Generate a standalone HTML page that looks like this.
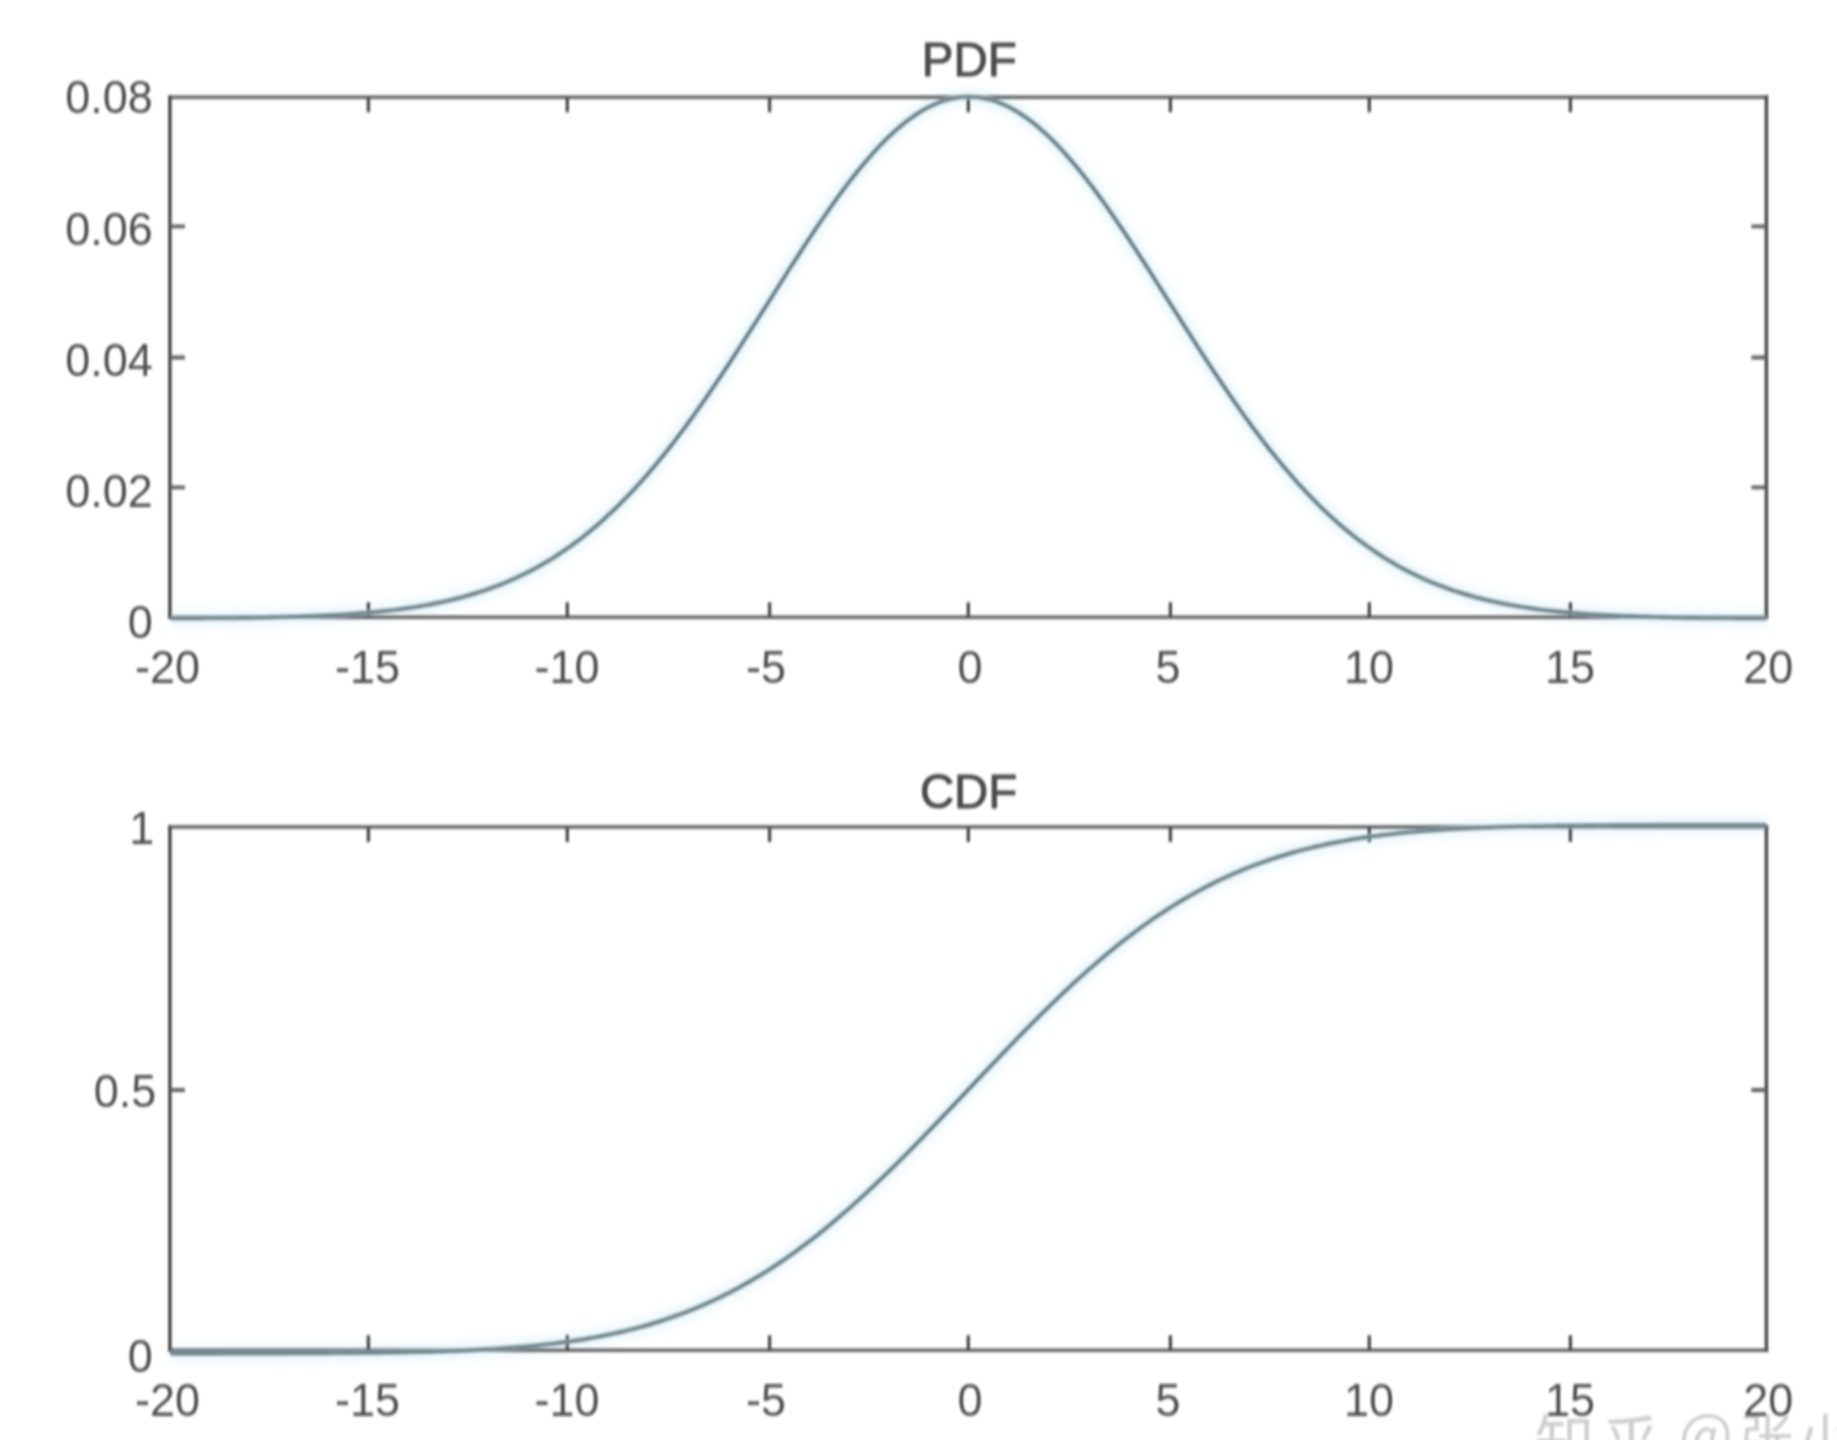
<!DOCTYPE html>
<html lang="zh"><head><meta charset="utf-8"><title>PDF / CDF</title>
<style>
html,body{margin:0;padding:0;background:#fff;}
body{width:1837px;height:1440px;overflow:hidden;position:relative;}
svg{display:block;position:absolute;left:0;top:0;width:1837px;height:1440px;}
text{font-family:"Liberation Sans","Noto Sans CJK SC",sans-serif;}
.lab{font-size:45px;fill:#505050;}
.ttl{font-size:47.4px;fill:#4c4c4c;stroke:#4c4c4c;stroke-width:1.0px;}
.wm{font-family:"Noto Sans CJK SC","WenQuanYi Zen Hei",sans-serif;fill:#cfcfcf;}
.ax{stroke:#4e4e4e;stroke-width:3.6;fill:none;}
.tk{stroke:#4e4e4e;stroke-width:3.4;fill:none;}
.axh{stroke:#5f5f5f;stroke-width:3.5;fill:none;}
.tkh{stroke:#5f5f5f;stroke-width:3.8;fill:none;}
.halo{stroke:#d8f2fa;stroke-width:16;fill:none;opacity:.5;}
.crv{stroke:#9db1b9;stroke-width:5;fill:none;stroke-linejoin:round;}
.crv2{stroke:#46616b;stroke-width:1.9;fill:none;stroke-linejoin:round;}
.soft{filter:url(#b1);}
.softt{filter:url(#b2);}
.softer{filter:blur(4px);}
</style></head><body>
<svg width="1837" height="1440" viewBox="0 0 1837 1440">
<defs><filter id="b1" filterUnits="userSpaceOnUse" x="0" y="0" width="1837" height="1440"><feGaussianBlur stdDeviation="1.2 1.65"/></filter><filter id="b2" filterUnits="userSpaceOnUse" x="0" y="0" width="1837" height="1500"><feGaussianBlur stdDeviation="1.25 1.6"/></filter></defs>
<rect width="1837" height="1440" fill="#fff"/>
<g class="softt">
<text class="wm" font-size="60" y="1465"><tspan x="1534.6">知</tspan><tspan x="1600.8">乎</tspan></text>
<text class="wm" y="1459"><tspan font-size="57" x="1678.7" y="1454.7">@</tspan><tspan font-size="54.5" x="1739.1" y="1459">张</tspan><tspan font-size="54.5" x="1797.7" y="1459">小</tspan></text>
</g>
<g class="softer">
<path class="halo" d="M170.6,618.3 L175.6,618.3 L180.6,618.3 L185.6,618.2 L190.6,618.2 L195.5,618.2 L200.5,618.2 L205.5,618.1 L210.5,618.1 L215.5,618.1 L220.5,618.0 L225.5,618.0 L230.5,617.9 L235.5,617.9 L240.4,617.8 L245.4,617.7 L250.4,617.7 L255.4,617.6 L260.4,617.5 L265.4,617.4 L270.4,617.3 L275.4,617.2 L280.4,617.1 L285.3,616.9 L290.3,616.8 L295.3,616.7 L300.3,616.5 L305.3,616.3 L310.3,616.1 L315.3,615.9 L320.3,615.7 L325.3,615.5 L330.2,615.3 L335.2,615.0 L340.2,614.7 L345.2,614.4 L350.2,614.1 L355.2,613.7 L360.2,613.3 L365.2,612.9 L370.2,612.5 L375.2,612.0 L380.1,611.5 L385.1,611.0 L390.1,610.4 L395.1,609.9 L400.1,609.2 L405.1,608.5 L410.1,607.8 L415.1,607.1 L420.1,606.2 L425.0,605.4 L430.0,604.5 L435.0,603.5 L440.0,602.5 L445.0,601.4 L450.0,600.3 L455.0,599.0 L460.0,597.8 L465.0,596.4 L469.9,595.0 L474.9,593.5 L479.9,591.9 L484.9,590.3 L489.9,588.5 L494.9,586.7 L499.9,584.8 L504.9,582.8 L509.9,580.7 L514.8,578.5 L519.8,576.1 L524.8,573.7 L529.8,571.2 L534.8,568.6 L539.8,565.8 L544.8,562.9 L549.8,560.0 L554.8,556.8 L559.7,553.6 L564.7,550.2 L569.7,546.7 L574.7,543.1 L579.7,539.4 L584.7,535.5 L589.7,531.4 L594.7,527.3 L599.7,523.0 L604.6,518.5 L609.6,513.9 L614.6,509.2 L619.6,504.3 L624.6,499.2 L629.6,494.1 L634.6,488.7 L639.6,483.3 L644.6,477.7 L649.6,471.9 L654.5,466.1 L659.5,460.0 L664.5,453.9 L669.5,447.6 L674.5,441.2 L679.5,434.6 L684.5,427.9 L689.5,421.1 L694.5,414.2 L699.4,407.2 L704.4,400.1 L709.4,392.8 L714.4,385.5 L719.4,378.1 L724.4,370.6 L729.4,363.1 L734.4,355.4 L739.4,347.7 L744.3,340.0 L749.3,332.2 L754.3,324.4 L759.3,316.5 L764.3,308.6 L769.3,300.8 L774.3,292.9 L779.3,285.0 L784.3,277.2 L789.2,269.3 L794.2,261.6 L799.2,253.9 L804.2,246.2 L809.2,238.6 L814.2,231.1 L819.2,223.7 L824.2,216.5 L829.2,209.3 L834.1,202.3 L839.1,195.4 L844.1,188.6 L849.1,182.0 L854.1,175.6 L859.1,169.4 L864.1,163.4 L869.1,157.6 L874.1,151.9 L879.0,146.6 L884.0,141.4 L889.0,136.5 L894.0,131.9 L899.0,127.5 L904.0,123.3 L909.0,119.5 L914.0,115.9 L919.0,112.6 L923.9,109.6 L928.9,107.0 L933.9,104.6 L938.9,102.5 L943.9,100.7 L948.9,99.3 L953.9,98.2 L958.9,97.3 L963.9,96.9 L968.9,96.7 L973.8,96.9 L978.8,97.3 L983.8,98.2 L988.8,99.3 L993.8,100.7 L998.8,102.5 L1003.8,104.6 L1008.8,107.0 L1013.8,109.6 L1018.7,112.6 L1023.7,115.9 L1028.7,119.5 L1033.7,123.3 L1038.7,127.5 L1043.7,131.9 L1048.7,136.5 L1053.7,141.4 L1058.7,146.6 L1063.6,151.9 L1068.6,157.6 L1073.6,163.4 L1078.6,169.4 L1083.6,175.6 L1088.6,182.0 L1093.6,188.6 L1098.6,195.4 L1103.6,202.3 L1108.5,209.3 L1113.5,216.5 L1118.5,223.7 L1123.5,231.1 L1128.5,238.6 L1133.5,246.2 L1138.5,253.9 L1143.5,261.6 L1148.5,269.3 L1153.4,277.2 L1158.4,285.0 L1163.4,292.9 L1168.4,300.8 L1173.4,308.6 L1178.4,316.5 L1183.4,324.4 L1188.4,332.2 L1193.4,340.0 L1198.3,347.7 L1203.3,355.4 L1208.3,363.1 L1213.3,370.6 L1218.3,378.1 L1223.3,385.5 L1228.3,392.8 L1233.3,400.1 L1238.3,407.2 L1243.2,414.2 L1248.2,421.1 L1253.2,427.9 L1258.2,434.6 L1263.2,441.2 L1268.2,447.6 L1273.2,453.9 L1278.2,460.0 L1283.2,466.1 L1288.2,471.9 L1293.1,477.7 L1298.1,483.3 L1303.1,488.7 L1308.1,494.1 L1313.1,499.2 L1318.1,504.3 L1323.1,509.2 L1328.1,513.9 L1333.1,518.5 L1338.0,523.0 L1343.0,527.3 L1348.0,531.4 L1353.0,535.5 L1358.0,539.4 L1363.0,543.1 L1368.0,546.7 L1373.0,550.2 L1378.0,553.6 L1382.9,556.8 L1387.9,560.0 L1392.9,562.9 L1397.9,565.8 L1402.9,568.6 L1407.9,571.2 L1412.9,573.7 L1417.9,576.1 L1422.9,578.5 L1427.8,580.7 L1432.8,582.8 L1437.8,584.8 L1442.8,586.7 L1447.8,588.5 L1452.8,590.3 L1457.8,591.9 L1462.8,593.5 L1467.8,595.0 L1472.7,596.4 L1477.7,597.8 L1482.7,599.0 L1487.7,600.3 L1492.7,601.4 L1497.7,602.5 L1502.7,603.5 L1507.7,604.5 L1512.7,605.4 L1517.6,606.2 L1522.6,607.1 L1527.6,607.8 L1532.6,608.5 L1537.6,609.2 L1542.6,609.9 L1547.6,610.4 L1552.6,611.0 L1557.6,611.5 L1562.5,612.0 L1567.5,612.5 L1572.5,612.9 L1577.5,613.3 L1582.5,613.7 L1587.5,614.1 L1592.5,614.4 L1597.5,614.7 L1602.5,615.0 L1607.5,615.3 L1612.4,615.5 L1617.4,615.7 L1622.4,615.9 L1627.4,616.1 L1632.4,616.3 L1637.4,616.5 L1642.4,616.7 L1647.4,616.8 L1652.4,616.9 L1657.3,617.1 L1662.3,617.2 L1667.3,617.3 L1672.3,617.4 L1677.3,617.5 L1682.3,617.6 L1687.3,617.7 L1692.3,617.7 L1697.3,617.8 L1702.2,617.9 L1707.2,617.9 L1712.2,618.0 L1717.2,618.0 L1722.2,618.1 L1727.2,618.1 L1732.2,618.1 L1737.2,618.2 L1742.2,618.2 L1747.1,618.2 L1752.1,618.2 L1757.1,618.3 L1762.1,618.3 L1766.4,618.3"/>
<path class="halo" d="M170.4,1353.5 L175.4,1353.5 L180.4,1353.5 L185.4,1353.5 L190.4,1353.5 L195.3,1353.5 L200.3,1353.5 L205.3,1353.5 L210.3,1353.5 L215.3,1353.5 L220.3,1353.5 L225.3,1353.4 L230.3,1353.4 L235.3,1353.4 L240.2,1353.4 L245.2,1353.4 L250.2,1353.4 L255.2,1353.4 L260.2,1353.4 L265.2,1353.4 L270.2,1353.4 L275.2,1353.4 L280.2,1353.4 L285.1,1353.3 L290.1,1353.3 L295.1,1353.3 L300.1,1353.3 L305.1,1353.3 L310.1,1353.2 L315.1,1353.2 L320.1,1353.2 L325.1,1353.2 L330.1,1353.1 L335.0,1353.1 L340.0,1353.1 L345.0,1353.0 L350.0,1353.0 L355.0,1352.9 L360.0,1352.9 L365.0,1352.8 L370.0,1352.8 L375.0,1352.7 L379.9,1352.7 L384.9,1352.6 L389.9,1352.5 L394.9,1352.4 L399.9,1352.3 L404.9,1352.3 L409.9,1352.1 L414.9,1352.0 L419.9,1351.9 L424.8,1351.8 L429.8,1351.7 L434.8,1351.5 L439.8,1351.4 L444.8,1351.2 L449.8,1351.0 L454.8,1350.9 L459.8,1350.7 L464.8,1350.4 L469.7,1350.2 L474.7,1350.0 L479.7,1349.7 L484.7,1349.5 L489.7,1349.2 L494.7,1348.9 L499.7,1348.5 L504.7,1348.2 L509.7,1347.8 L514.6,1347.4 L519.6,1347.0 L524.6,1346.6 L529.6,1346.2 L534.6,1345.7 L539.6,1345.2 L544.6,1344.6 L549.6,1344.1 L554.6,1343.5 L559.5,1342.8 L564.5,1342.2 L569.5,1341.5 L574.5,1340.7 L579.5,1340.0 L584.5,1339.2 L589.5,1338.3 L594.5,1337.4 L599.5,1336.5 L604.4,1335.5 L609.4,1334.5 L614.4,1333.4 L619.4,1332.3 L624.4,1331.2 L629.4,1329.9 L634.4,1328.7 L639.4,1327.4 L644.4,1326.0 L649.4,1324.5 L654.3,1323.0 L659.3,1321.5 L664.3,1319.9 L669.3,1318.2 L674.3,1316.4 L679.3,1314.6 L684.3,1312.8 L689.3,1310.8 L694.3,1308.8 L699.2,1306.7 L704.2,1304.6 L709.2,1302.3 L714.2,1300.0 L719.2,1297.7 L724.2,1295.2 L729.2,1292.7 L734.2,1290.1 L739.2,1287.4 L744.1,1284.6 L749.1,1281.8 L754.1,1278.9 L759.1,1275.9 L764.1,1272.8 L769.1,1269.7 L774.1,1266.4 L779.1,1263.1 L784.1,1259.7 L789.0,1256.2 L794.0,1252.7 L799.0,1249.0 L804.0,1245.3 L809.0,1241.5 L814.0,1237.7 L819.0,1233.7 L824.0,1229.7 L829.0,1225.6 L833.9,1221.5 L838.9,1217.2 L843.9,1212.9 L848.9,1208.6 L853.9,1204.1 L858.9,1199.6 L863.9,1195.1 L868.9,1190.4 L873.9,1185.8 L878.8,1181.0 L883.8,1176.2 L888.8,1171.4 L893.8,1166.5 L898.8,1161.6 L903.8,1156.6 L908.8,1151.6 L913.8,1146.5 L918.8,1141.4 L923.7,1136.3 L928.7,1131.1 L933.7,1126.0 L938.7,1120.8 L943.7,1115.5 L948.7,1110.3 L953.7,1105.0 L958.7,1099.8 L963.7,1094.5 L968.6,1089.2 L973.6,1084.0 L978.6,1078.7 L983.6,1073.5 L988.6,1068.2 L993.6,1063.0 L998.6,1057.7 L1003.6,1052.5 L1008.6,1047.4 L1013.6,1042.2 L1018.5,1037.1 L1023.5,1032.0 L1028.5,1026.9 L1033.5,1021.9 L1038.5,1016.9 L1043.5,1012.0 L1048.5,1007.1 L1053.5,1002.3 L1058.5,997.5 L1063.4,992.7 L1068.4,988.1 L1073.4,983.4 L1078.4,978.9 L1083.4,974.4 L1088.4,969.9 L1093.4,965.6 L1098.4,961.3 L1103.4,957.0 L1108.3,952.9 L1113.3,948.8 L1118.3,944.8 L1123.3,940.8 L1128.3,937.0 L1133.3,933.2 L1138.3,929.5 L1143.3,925.8 L1148.3,922.3 L1153.2,918.8 L1158.2,915.4 L1163.2,912.1 L1168.2,908.8 L1173.2,905.7 L1178.2,902.6 L1183.2,899.6 L1188.2,896.7 L1193.2,893.9 L1198.1,891.1 L1203.1,888.4 L1208.1,885.8 L1213.1,883.3 L1218.1,880.8 L1223.1,878.5 L1228.1,876.2 L1233.1,873.9 L1238.1,871.8 L1243.0,869.7 L1248.0,867.7 L1253.0,865.7 L1258.0,863.9 L1263.0,862.1 L1268.0,860.3 L1273.0,858.6 L1278.0,857.0 L1283.0,855.5 L1288.0,854.0 L1292.9,852.5 L1297.9,851.1 L1302.9,849.8 L1307.9,848.6 L1312.9,847.3 L1317.9,846.2 L1322.9,845.1 L1327.9,844.0 L1332.9,843.0 L1337.8,842.0 L1342.8,841.1 L1347.8,840.2 L1352.8,839.3 L1357.8,838.5 L1362.8,837.8 L1367.8,837.0 L1372.8,836.3 L1377.8,835.7 L1382.7,835.0 L1387.7,834.4 L1392.7,833.9 L1397.7,833.3 L1402.7,832.8 L1407.7,832.3 L1412.7,831.9 L1417.7,831.5 L1422.7,831.1 L1427.6,830.7 L1432.6,830.3 L1437.6,830.0 L1442.6,829.6 L1447.6,829.3 L1452.6,829.0 L1457.6,828.8 L1462.6,828.5 L1467.6,828.3 L1472.5,828.1 L1477.5,827.8 L1482.5,827.6 L1487.5,827.5 L1492.5,827.3 L1497.5,827.1 L1502.5,827.0 L1507.5,826.8 L1512.5,826.7 L1517.4,826.6 L1522.4,826.5 L1527.4,826.4 L1532.4,826.2 L1537.4,826.2 L1542.4,826.1 L1547.4,826.0 L1552.4,825.9 L1557.4,825.8 L1562.3,825.8 L1567.3,825.7 L1572.3,825.7 L1577.3,825.6 L1582.3,825.6 L1587.3,825.5 L1592.3,825.5 L1597.3,825.4 L1602.3,825.4 L1607.3,825.4 L1612.2,825.3 L1617.2,825.3 L1622.2,825.3 L1627.2,825.3 L1632.2,825.2 L1637.2,825.2 L1642.2,825.2 L1647.2,825.2 L1652.2,825.2 L1657.1,825.1 L1662.1,825.1 L1667.1,825.1 L1672.1,825.1 L1677.1,825.1 L1682.1,825.1 L1687.1,825.1 L1692.1,825.1 L1697.1,825.1 L1702.0,825.1 L1707.0,825.1 L1712.0,825.1 L1717.0,825.0 L1722.0,825.0 L1727.0,825.0 L1732.0,825.0 L1737.0,825.0 L1742.0,825.0 L1746.9,825.0 L1751.9,825.0 L1756.9,825.0 L1761.9,825.0 L1766.4,825.0"/>
</g>
<g class="soft">
<path class="axh" d="M168.1,97.2 H1768.2 M168.1,617.2 H1768.2"/>
<path class="ax" d="M169.9,95.4 V619.0 M1766.4,95.4 V619.0"/>
<path class="tk" d="M368.4,617.2 V602.2 M368.4,97.2 V112.2 M567.3,617.2 V602.2 M567.3,97.2 V112.2 M769.6,617.2 V602.2 M769.6,97.2 V112.2 M968.3,617.2 V602.2 M968.3,97.2 V112.2 M1170.4,617.2 V602.2 M1170.4,97.2 V112.2 M1369.3,617.2 V602.2 M1369.3,97.2 V112.2 M1570.4,617.2 V602.2 M1570.4,97.2 V112.2"/>
<path class="tkh" d="M169.9,226.3 H184.9 M1766.4,226.3 H1751.4 M169.9,357.5 H184.9 M1766.4,357.5 H1751.4 M169.9,487.4 H184.9 M1766.4,487.4 H1751.4"/>
<path class="axh" d="M168.1,827.0 H1768.2 M168.1,1350.2 H1768.2"/>
<path class="ax" d="M169.9,825.2 V1352.0 M1766.4,825.2 V1352.0"/>
<path class="tk" d="M368.4,1350.2 V1335.2 M368.4,827.0 V842.0 M567.3,1350.2 V1335.2 M567.3,827.0 V842.0 M769.6,1350.2 V1335.2 M769.6,827.0 V842.0 M968.3,1350.2 V1335.2 M968.3,827.0 V842.0 M1170.4,1350.2 V1335.2 M1170.4,827.0 V842.0 M1369.3,1350.2 V1335.2 M1369.3,827.0 V842.0 M1570.4,1350.2 V1335.2 M1570.4,827.0 V842.0"/>
<path class="tkh" d="M169.9,1090.0 H184.9 M1766.4,1090.0 H1751.4"/>
<path class="crv" d="M170.6,618.3 L175.6,618.3 L180.6,618.3 L185.6,618.2 L190.6,618.2 L195.5,618.2 L200.5,618.2 L205.5,618.1 L210.5,618.1 L215.5,618.1 L220.5,618.0 L225.5,618.0 L230.5,617.9 L235.5,617.9 L240.4,617.8 L245.4,617.7 L250.4,617.7 L255.4,617.6 L260.4,617.5 L265.4,617.4 L270.4,617.3 L275.4,617.2 L280.4,617.1 L285.3,616.9 L290.3,616.8 L295.3,616.7 L300.3,616.5 L305.3,616.3 L310.3,616.1 L315.3,615.9 L320.3,615.7 L325.3,615.5 L330.2,615.3 L335.2,615.0 L340.2,614.7 L345.2,614.4 L350.2,614.1 L355.2,613.7 L360.2,613.3 L365.2,612.9 L370.2,612.5 L375.2,612.0 L380.1,611.5 L385.1,611.0 L390.1,610.4 L395.1,609.9 L400.1,609.2 L405.1,608.5 L410.1,607.8 L415.1,607.1 L420.1,606.2 L425.0,605.4 L430.0,604.5 L435.0,603.5 L440.0,602.5 L445.0,601.4 L450.0,600.3 L455.0,599.0 L460.0,597.8 L465.0,596.4 L469.9,595.0 L474.9,593.5 L479.9,591.9 L484.9,590.3 L489.9,588.5 L494.9,586.7 L499.9,584.8 L504.9,582.8 L509.9,580.7 L514.8,578.5 L519.8,576.1 L524.8,573.7 L529.8,571.2 L534.8,568.6 L539.8,565.8 L544.8,562.9 L549.8,560.0 L554.8,556.8 L559.7,553.6 L564.7,550.2 L569.7,546.7 L574.7,543.1 L579.7,539.4 L584.7,535.5 L589.7,531.4 L594.7,527.3 L599.7,523.0 L604.6,518.5 L609.6,513.9 L614.6,509.2 L619.6,504.3 L624.6,499.2 L629.6,494.1 L634.6,488.7 L639.6,483.3 L644.6,477.7 L649.6,471.9 L654.5,466.1 L659.5,460.0 L664.5,453.9 L669.5,447.6 L674.5,441.2 L679.5,434.6 L684.5,427.9 L689.5,421.1 L694.5,414.2 L699.4,407.2 L704.4,400.1 L709.4,392.8 L714.4,385.5 L719.4,378.1 L724.4,370.6 L729.4,363.1 L734.4,355.4 L739.4,347.7 L744.3,340.0 L749.3,332.2 L754.3,324.4 L759.3,316.5 L764.3,308.6 L769.3,300.8 L774.3,292.9 L779.3,285.0 L784.3,277.2 L789.2,269.3 L794.2,261.6 L799.2,253.9 L804.2,246.2 L809.2,238.6 L814.2,231.1 L819.2,223.7 L824.2,216.5 L829.2,209.3 L834.1,202.3 L839.1,195.4 L844.1,188.6 L849.1,182.0 L854.1,175.6 L859.1,169.4 L864.1,163.4 L869.1,157.6 L874.1,151.9 L879.0,146.6 L884.0,141.4 L889.0,136.5 L894.0,131.9 L899.0,127.5 L904.0,123.3 L909.0,119.5 L914.0,115.9 L919.0,112.6 L923.9,109.6 L928.9,107.0 L933.9,104.6 L938.9,102.5 L943.9,100.7 L948.9,99.3 L953.9,98.2 L958.9,97.3 L963.9,96.9 L968.9,96.7 L973.8,96.9 L978.8,97.3 L983.8,98.2 L988.8,99.3 L993.8,100.7 L998.8,102.5 L1003.8,104.6 L1008.8,107.0 L1013.8,109.6 L1018.7,112.6 L1023.7,115.9 L1028.7,119.5 L1033.7,123.3 L1038.7,127.5 L1043.7,131.9 L1048.7,136.5 L1053.7,141.4 L1058.7,146.6 L1063.6,151.9 L1068.6,157.6 L1073.6,163.4 L1078.6,169.4 L1083.6,175.6 L1088.6,182.0 L1093.6,188.6 L1098.6,195.4 L1103.6,202.3 L1108.5,209.3 L1113.5,216.5 L1118.5,223.7 L1123.5,231.1 L1128.5,238.6 L1133.5,246.2 L1138.5,253.9 L1143.5,261.6 L1148.5,269.3 L1153.4,277.2 L1158.4,285.0 L1163.4,292.9 L1168.4,300.8 L1173.4,308.6 L1178.4,316.5 L1183.4,324.4 L1188.4,332.2 L1193.4,340.0 L1198.3,347.7 L1203.3,355.4 L1208.3,363.1 L1213.3,370.6 L1218.3,378.1 L1223.3,385.5 L1228.3,392.8 L1233.3,400.1 L1238.3,407.2 L1243.2,414.2 L1248.2,421.1 L1253.2,427.9 L1258.2,434.6 L1263.2,441.2 L1268.2,447.6 L1273.2,453.9 L1278.2,460.0 L1283.2,466.1 L1288.2,471.9 L1293.1,477.7 L1298.1,483.3 L1303.1,488.7 L1308.1,494.1 L1313.1,499.2 L1318.1,504.3 L1323.1,509.2 L1328.1,513.9 L1333.1,518.5 L1338.0,523.0 L1343.0,527.3 L1348.0,531.4 L1353.0,535.5 L1358.0,539.4 L1363.0,543.1 L1368.0,546.7 L1373.0,550.2 L1378.0,553.6 L1382.9,556.8 L1387.9,560.0 L1392.9,562.9 L1397.9,565.8 L1402.9,568.6 L1407.9,571.2 L1412.9,573.7 L1417.9,576.1 L1422.9,578.5 L1427.8,580.7 L1432.8,582.8 L1437.8,584.8 L1442.8,586.7 L1447.8,588.5 L1452.8,590.3 L1457.8,591.9 L1462.8,593.5 L1467.8,595.0 L1472.7,596.4 L1477.7,597.8 L1482.7,599.0 L1487.7,600.3 L1492.7,601.4 L1497.7,602.5 L1502.7,603.5 L1507.7,604.5 L1512.7,605.4 L1517.6,606.2 L1522.6,607.1 L1527.6,607.8 L1532.6,608.5 L1537.6,609.2 L1542.6,609.9 L1547.6,610.4 L1552.6,611.0 L1557.6,611.5 L1562.5,612.0 L1567.5,612.5 L1572.5,612.9 L1577.5,613.3 L1582.5,613.7 L1587.5,614.1 L1592.5,614.4 L1597.5,614.7 L1602.5,615.0 L1607.5,615.3 L1612.4,615.5 L1617.4,615.7 L1622.4,615.9 L1627.4,616.1 L1632.4,616.3 L1637.4,616.5 L1642.4,616.7 L1647.4,616.8 L1652.4,616.9 L1657.3,617.1 L1662.3,617.2 L1667.3,617.3 L1672.3,617.4 L1677.3,617.5 L1682.3,617.6 L1687.3,617.7 L1692.3,617.7 L1697.3,617.8 L1702.2,617.9 L1707.2,617.9 L1712.2,618.0 L1717.2,618.0 L1722.2,618.1 L1727.2,618.1 L1732.2,618.1 L1737.2,618.2 L1742.2,618.2 L1747.1,618.2 L1752.1,618.2 L1757.1,618.3 L1762.1,618.3 L1766.4,618.3"/>
<path class="crv" d="M170.4,1353.5 L175.4,1353.5 L180.4,1353.5 L185.4,1353.5 L190.4,1353.5 L195.3,1353.5 L200.3,1353.5 L205.3,1353.5 L210.3,1353.5 L215.3,1353.5 L220.3,1353.5 L225.3,1353.4 L230.3,1353.4 L235.3,1353.4 L240.2,1353.4 L245.2,1353.4 L250.2,1353.4 L255.2,1353.4 L260.2,1353.4 L265.2,1353.4 L270.2,1353.4 L275.2,1353.4 L280.2,1353.4 L285.1,1353.3 L290.1,1353.3 L295.1,1353.3 L300.1,1353.3 L305.1,1353.3 L310.1,1353.2 L315.1,1353.2 L320.1,1353.2 L325.1,1353.2 L330.1,1353.1 L335.0,1353.1 L340.0,1353.1 L345.0,1353.0 L350.0,1353.0 L355.0,1352.9 L360.0,1352.9 L365.0,1352.8 L370.0,1352.8 L375.0,1352.7 L379.9,1352.7 L384.9,1352.6 L389.9,1352.5 L394.9,1352.4 L399.9,1352.3 L404.9,1352.3 L409.9,1352.1 L414.9,1352.0 L419.9,1351.9 L424.8,1351.8 L429.8,1351.7 L434.8,1351.5 L439.8,1351.4 L444.8,1351.2 L449.8,1351.0 L454.8,1350.9 L459.8,1350.7 L464.8,1350.4 L469.7,1350.2 L474.7,1350.0 L479.7,1349.7 L484.7,1349.5 L489.7,1349.2 L494.7,1348.9 L499.7,1348.5 L504.7,1348.2 L509.7,1347.8 L514.6,1347.4 L519.6,1347.0 L524.6,1346.6 L529.6,1346.2 L534.6,1345.7 L539.6,1345.2 L544.6,1344.6 L549.6,1344.1 L554.6,1343.5 L559.5,1342.8 L564.5,1342.2 L569.5,1341.5 L574.5,1340.7 L579.5,1340.0 L584.5,1339.2 L589.5,1338.3 L594.5,1337.4 L599.5,1336.5 L604.4,1335.5 L609.4,1334.5 L614.4,1333.4 L619.4,1332.3 L624.4,1331.2 L629.4,1329.9 L634.4,1328.7 L639.4,1327.4 L644.4,1326.0 L649.4,1324.5 L654.3,1323.0 L659.3,1321.5 L664.3,1319.9 L669.3,1318.2 L674.3,1316.4 L679.3,1314.6 L684.3,1312.8 L689.3,1310.8 L694.3,1308.8 L699.2,1306.7 L704.2,1304.6 L709.2,1302.3 L714.2,1300.0 L719.2,1297.7 L724.2,1295.2 L729.2,1292.7 L734.2,1290.1 L739.2,1287.4 L744.1,1284.6 L749.1,1281.8 L754.1,1278.9 L759.1,1275.9 L764.1,1272.8 L769.1,1269.7 L774.1,1266.4 L779.1,1263.1 L784.1,1259.7 L789.0,1256.2 L794.0,1252.7 L799.0,1249.0 L804.0,1245.3 L809.0,1241.5 L814.0,1237.7 L819.0,1233.7 L824.0,1229.7 L829.0,1225.6 L833.9,1221.5 L838.9,1217.2 L843.9,1212.9 L848.9,1208.6 L853.9,1204.1 L858.9,1199.6 L863.9,1195.1 L868.9,1190.4 L873.9,1185.8 L878.8,1181.0 L883.8,1176.2 L888.8,1171.4 L893.8,1166.5 L898.8,1161.6 L903.8,1156.6 L908.8,1151.6 L913.8,1146.5 L918.8,1141.4 L923.7,1136.3 L928.7,1131.1 L933.7,1126.0 L938.7,1120.8 L943.7,1115.5 L948.7,1110.3 L953.7,1105.0 L958.7,1099.8 L963.7,1094.5 L968.6,1089.2 L973.6,1084.0 L978.6,1078.7 L983.6,1073.5 L988.6,1068.2 L993.6,1063.0 L998.6,1057.7 L1003.6,1052.5 L1008.6,1047.4 L1013.6,1042.2 L1018.5,1037.1 L1023.5,1032.0 L1028.5,1026.9 L1033.5,1021.9 L1038.5,1016.9 L1043.5,1012.0 L1048.5,1007.1 L1053.5,1002.3 L1058.5,997.5 L1063.4,992.7 L1068.4,988.1 L1073.4,983.4 L1078.4,978.9 L1083.4,974.4 L1088.4,969.9 L1093.4,965.6 L1098.4,961.3 L1103.4,957.0 L1108.3,952.9 L1113.3,948.8 L1118.3,944.8 L1123.3,940.8 L1128.3,937.0 L1133.3,933.2 L1138.3,929.5 L1143.3,925.8 L1148.3,922.3 L1153.2,918.8 L1158.2,915.4 L1163.2,912.1 L1168.2,908.8 L1173.2,905.7 L1178.2,902.6 L1183.2,899.6 L1188.2,896.7 L1193.2,893.9 L1198.1,891.1 L1203.1,888.4 L1208.1,885.8 L1213.1,883.3 L1218.1,880.8 L1223.1,878.5 L1228.1,876.2 L1233.1,873.9 L1238.1,871.8 L1243.0,869.7 L1248.0,867.7 L1253.0,865.7 L1258.0,863.9 L1263.0,862.1 L1268.0,860.3 L1273.0,858.6 L1278.0,857.0 L1283.0,855.5 L1288.0,854.0 L1292.9,852.5 L1297.9,851.1 L1302.9,849.8 L1307.9,848.6 L1312.9,847.3 L1317.9,846.2 L1322.9,845.1 L1327.9,844.0 L1332.9,843.0 L1337.8,842.0 L1342.8,841.1 L1347.8,840.2 L1352.8,839.3 L1357.8,838.5 L1362.8,837.8 L1367.8,837.0 L1372.8,836.3 L1377.8,835.7 L1382.7,835.0 L1387.7,834.4 L1392.7,833.9 L1397.7,833.3 L1402.7,832.8 L1407.7,832.3 L1412.7,831.9 L1417.7,831.5 L1422.7,831.1 L1427.6,830.7 L1432.6,830.3 L1437.6,830.0 L1442.6,829.6 L1447.6,829.3 L1452.6,829.0 L1457.6,828.8 L1462.6,828.5 L1467.6,828.3 L1472.5,828.1 L1477.5,827.8 L1482.5,827.6 L1487.5,827.5 L1492.5,827.3 L1497.5,827.1 L1502.5,827.0 L1507.5,826.8 L1512.5,826.7 L1517.4,826.6 L1522.4,826.5 L1527.4,826.4 L1532.4,826.2 L1537.4,826.2 L1542.4,826.1 L1547.4,826.0 L1552.4,825.9 L1557.4,825.8 L1562.3,825.8 L1567.3,825.7 L1572.3,825.7 L1577.3,825.6 L1582.3,825.6 L1587.3,825.5 L1592.3,825.5 L1597.3,825.4 L1602.3,825.4 L1607.3,825.4 L1612.2,825.3 L1617.2,825.3 L1622.2,825.3 L1627.2,825.3 L1632.2,825.2 L1637.2,825.2 L1642.2,825.2 L1647.2,825.2 L1652.2,825.2 L1657.1,825.1 L1662.1,825.1 L1667.1,825.1 L1672.1,825.1 L1677.1,825.1 L1682.1,825.1 L1687.1,825.1 L1692.1,825.1 L1697.1,825.1 L1702.0,825.1 L1707.0,825.1 L1712.0,825.1 L1717.0,825.0 L1722.0,825.0 L1727.0,825.0 L1732.0,825.0 L1737.0,825.0 L1742.0,825.0 L1746.9,825.0 L1751.9,825.0 L1756.9,825.0 L1761.9,825.0 L1766.4,825.0"/>
<path class="crv2" d="M170.6,618.3 L175.6,618.3 L180.6,618.3 L185.6,618.2 L190.6,618.2 L195.5,618.2 L200.5,618.2 L205.5,618.1 L210.5,618.1 L215.5,618.1 L220.5,618.0 L225.5,618.0 L230.5,617.9 L235.5,617.9 L240.4,617.8 L245.4,617.7 L250.4,617.7 L255.4,617.6 L260.4,617.5 L265.4,617.4 L270.4,617.3 L275.4,617.2 L280.4,617.1 L285.3,616.9 L290.3,616.8 L295.3,616.7 L300.3,616.5 L305.3,616.3 L310.3,616.1 L315.3,615.9 L320.3,615.7 L325.3,615.5 L330.2,615.3 L335.2,615.0 L340.2,614.7 L345.2,614.4 L350.2,614.1 L355.2,613.7 L360.2,613.3 L365.2,612.9 L370.2,612.5 L375.2,612.0 L380.1,611.5 L385.1,611.0 L390.1,610.4 L395.1,609.9 L400.1,609.2 L405.1,608.5 L410.1,607.8 L415.1,607.1 L420.1,606.2 L425.0,605.4 L430.0,604.5 L435.0,603.5 L440.0,602.5 L445.0,601.4 L450.0,600.3 L455.0,599.0 L460.0,597.8 L465.0,596.4 L469.9,595.0 L474.9,593.5 L479.9,591.9 L484.9,590.3 L489.9,588.5 L494.9,586.7 L499.9,584.8 L504.9,582.8 L509.9,580.7 L514.8,578.5 L519.8,576.1 L524.8,573.7 L529.8,571.2 L534.8,568.6 L539.8,565.8 L544.8,562.9 L549.8,560.0 L554.8,556.8 L559.7,553.6 L564.7,550.2 L569.7,546.7 L574.7,543.1 L579.7,539.4 L584.7,535.5 L589.7,531.4 L594.7,527.3 L599.7,523.0 L604.6,518.5 L609.6,513.9 L614.6,509.2 L619.6,504.3 L624.6,499.2 L629.6,494.1 L634.6,488.7 L639.6,483.3 L644.6,477.7 L649.6,471.9 L654.5,466.1 L659.5,460.0 L664.5,453.9 L669.5,447.6 L674.5,441.2 L679.5,434.6 L684.5,427.9 L689.5,421.1 L694.5,414.2 L699.4,407.2 L704.4,400.1 L709.4,392.8 L714.4,385.5 L719.4,378.1 L724.4,370.6 L729.4,363.1 L734.4,355.4 L739.4,347.7 L744.3,340.0 L749.3,332.2 L754.3,324.4 L759.3,316.5 L764.3,308.6 L769.3,300.8 L774.3,292.9 L779.3,285.0 L784.3,277.2 L789.2,269.3 L794.2,261.6 L799.2,253.9 L804.2,246.2 L809.2,238.6 L814.2,231.1 L819.2,223.7 L824.2,216.5 L829.2,209.3 L834.1,202.3 L839.1,195.4 L844.1,188.6 L849.1,182.0 L854.1,175.6 L859.1,169.4 L864.1,163.4 L869.1,157.6 L874.1,151.9 L879.0,146.6 L884.0,141.4 L889.0,136.5 L894.0,131.9 L899.0,127.5 L904.0,123.3 L909.0,119.5 L914.0,115.9 L919.0,112.6 L923.9,109.6 L928.9,107.0 L933.9,104.6 L938.9,102.5 L943.9,100.7 L948.9,99.3 L953.9,98.2 L958.9,97.3 L963.9,96.9 L968.9,96.7 L973.8,96.9 L978.8,97.3 L983.8,98.2 L988.8,99.3 L993.8,100.7 L998.8,102.5 L1003.8,104.6 L1008.8,107.0 L1013.8,109.6 L1018.7,112.6 L1023.7,115.9 L1028.7,119.5 L1033.7,123.3 L1038.7,127.5 L1043.7,131.9 L1048.7,136.5 L1053.7,141.4 L1058.7,146.6 L1063.6,151.9 L1068.6,157.6 L1073.6,163.4 L1078.6,169.4 L1083.6,175.6 L1088.6,182.0 L1093.6,188.6 L1098.6,195.4 L1103.6,202.3 L1108.5,209.3 L1113.5,216.5 L1118.5,223.7 L1123.5,231.1 L1128.5,238.6 L1133.5,246.2 L1138.5,253.9 L1143.5,261.6 L1148.5,269.3 L1153.4,277.2 L1158.4,285.0 L1163.4,292.9 L1168.4,300.8 L1173.4,308.6 L1178.4,316.5 L1183.4,324.4 L1188.4,332.2 L1193.4,340.0 L1198.3,347.7 L1203.3,355.4 L1208.3,363.1 L1213.3,370.6 L1218.3,378.1 L1223.3,385.5 L1228.3,392.8 L1233.3,400.1 L1238.3,407.2 L1243.2,414.2 L1248.2,421.1 L1253.2,427.9 L1258.2,434.6 L1263.2,441.2 L1268.2,447.6 L1273.2,453.9 L1278.2,460.0 L1283.2,466.1 L1288.2,471.9 L1293.1,477.7 L1298.1,483.3 L1303.1,488.7 L1308.1,494.1 L1313.1,499.2 L1318.1,504.3 L1323.1,509.2 L1328.1,513.9 L1333.1,518.5 L1338.0,523.0 L1343.0,527.3 L1348.0,531.4 L1353.0,535.5 L1358.0,539.4 L1363.0,543.1 L1368.0,546.7 L1373.0,550.2 L1378.0,553.6 L1382.9,556.8 L1387.9,560.0 L1392.9,562.9 L1397.9,565.8 L1402.9,568.6 L1407.9,571.2 L1412.9,573.7 L1417.9,576.1 L1422.9,578.5 L1427.8,580.7 L1432.8,582.8 L1437.8,584.8 L1442.8,586.7 L1447.8,588.5 L1452.8,590.3 L1457.8,591.9 L1462.8,593.5 L1467.8,595.0 L1472.7,596.4 L1477.7,597.8 L1482.7,599.0 L1487.7,600.3 L1492.7,601.4 L1497.7,602.5 L1502.7,603.5 L1507.7,604.5 L1512.7,605.4 L1517.6,606.2 L1522.6,607.1 L1527.6,607.8 L1532.6,608.5 L1537.6,609.2 L1542.6,609.9 L1547.6,610.4 L1552.6,611.0 L1557.6,611.5 L1562.5,612.0 L1567.5,612.5 L1572.5,612.9 L1577.5,613.3 L1582.5,613.7 L1587.5,614.1 L1592.5,614.4 L1597.5,614.7 L1602.5,615.0 L1607.5,615.3 L1612.4,615.5 L1617.4,615.7 L1622.4,615.9 L1627.4,616.1 L1632.4,616.3 L1637.4,616.5 L1642.4,616.7 L1647.4,616.8 L1652.4,616.9 L1657.3,617.1 L1662.3,617.2 L1667.3,617.3 L1672.3,617.4 L1677.3,617.5 L1682.3,617.6 L1687.3,617.7 L1692.3,617.7 L1697.3,617.8 L1702.2,617.9 L1707.2,617.9 L1712.2,618.0 L1717.2,618.0 L1722.2,618.1 L1727.2,618.1 L1732.2,618.1 L1737.2,618.2 L1742.2,618.2 L1747.1,618.2 L1752.1,618.2 L1757.1,618.3 L1762.1,618.3 L1766.4,618.3"/>
<path class="crv2" d="M170.4,1353.5 L175.4,1353.5 L180.4,1353.5 L185.4,1353.5 L190.4,1353.5 L195.3,1353.5 L200.3,1353.5 L205.3,1353.5 L210.3,1353.5 L215.3,1353.5 L220.3,1353.5 L225.3,1353.4 L230.3,1353.4 L235.3,1353.4 L240.2,1353.4 L245.2,1353.4 L250.2,1353.4 L255.2,1353.4 L260.2,1353.4 L265.2,1353.4 L270.2,1353.4 L275.2,1353.4 L280.2,1353.4 L285.1,1353.3 L290.1,1353.3 L295.1,1353.3 L300.1,1353.3 L305.1,1353.3 L310.1,1353.2 L315.1,1353.2 L320.1,1353.2 L325.1,1353.2 L330.1,1353.1 L335.0,1353.1 L340.0,1353.1 L345.0,1353.0 L350.0,1353.0 L355.0,1352.9 L360.0,1352.9 L365.0,1352.8 L370.0,1352.8 L375.0,1352.7 L379.9,1352.7 L384.9,1352.6 L389.9,1352.5 L394.9,1352.4 L399.9,1352.3 L404.9,1352.3 L409.9,1352.1 L414.9,1352.0 L419.9,1351.9 L424.8,1351.8 L429.8,1351.7 L434.8,1351.5 L439.8,1351.4 L444.8,1351.2 L449.8,1351.0 L454.8,1350.9 L459.8,1350.7 L464.8,1350.4 L469.7,1350.2 L474.7,1350.0 L479.7,1349.7 L484.7,1349.5 L489.7,1349.2 L494.7,1348.9 L499.7,1348.5 L504.7,1348.2 L509.7,1347.8 L514.6,1347.4 L519.6,1347.0 L524.6,1346.6 L529.6,1346.2 L534.6,1345.7 L539.6,1345.2 L544.6,1344.6 L549.6,1344.1 L554.6,1343.5 L559.5,1342.8 L564.5,1342.2 L569.5,1341.5 L574.5,1340.7 L579.5,1340.0 L584.5,1339.2 L589.5,1338.3 L594.5,1337.4 L599.5,1336.5 L604.4,1335.5 L609.4,1334.5 L614.4,1333.4 L619.4,1332.3 L624.4,1331.2 L629.4,1329.9 L634.4,1328.7 L639.4,1327.4 L644.4,1326.0 L649.4,1324.5 L654.3,1323.0 L659.3,1321.5 L664.3,1319.9 L669.3,1318.2 L674.3,1316.4 L679.3,1314.6 L684.3,1312.8 L689.3,1310.8 L694.3,1308.8 L699.2,1306.7 L704.2,1304.6 L709.2,1302.3 L714.2,1300.0 L719.2,1297.7 L724.2,1295.2 L729.2,1292.7 L734.2,1290.1 L739.2,1287.4 L744.1,1284.6 L749.1,1281.8 L754.1,1278.9 L759.1,1275.9 L764.1,1272.8 L769.1,1269.7 L774.1,1266.4 L779.1,1263.1 L784.1,1259.7 L789.0,1256.2 L794.0,1252.7 L799.0,1249.0 L804.0,1245.3 L809.0,1241.5 L814.0,1237.7 L819.0,1233.7 L824.0,1229.7 L829.0,1225.6 L833.9,1221.5 L838.9,1217.2 L843.9,1212.9 L848.9,1208.6 L853.9,1204.1 L858.9,1199.6 L863.9,1195.1 L868.9,1190.4 L873.9,1185.8 L878.8,1181.0 L883.8,1176.2 L888.8,1171.4 L893.8,1166.5 L898.8,1161.6 L903.8,1156.6 L908.8,1151.6 L913.8,1146.5 L918.8,1141.4 L923.7,1136.3 L928.7,1131.1 L933.7,1126.0 L938.7,1120.8 L943.7,1115.5 L948.7,1110.3 L953.7,1105.0 L958.7,1099.8 L963.7,1094.5 L968.6,1089.2 L973.6,1084.0 L978.6,1078.7 L983.6,1073.5 L988.6,1068.2 L993.6,1063.0 L998.6,1057.7 L1003.6,1052.5 L1008.6,1047.4 L1013.6,1042.2 L1018.5,1037.1 L1023.5,1032.0 L1028.5,1026.9 L1033.5,1021.9 L1038.5,1016.9 L1043.5,1012.0 L1048.5,1007.1 L1053.5,1002.3 L1058.5,997.5 L1063.4,992.7 L1068.4,988.1 L1073.4,983.4 L1078.4,978.9 L1083.4,974.4 L1088.4,969.9 L1093.4,965.6 L1098.4,961.3 L1103.4,957.0 L1108.3,952.9 L1113.3,948.8 L1118.3,944.8 L1123.3,940.8 L1128.3,937.0 L1133.3,933.2 L1138.3,929.5 L1143.3,925.8 L1148.3,922.3 L1153.2,918.8 L1158.2,915.4 L1163.2,912.1 L1168.2,908.8 L1173.2,905.7 L1178.2,902.6 L1183.2,899.6 L1188.2,896.7 L1193.2,893.9 L1198.1,891.1 L1203.1,888.4 L1208.1,885.8 L1213.1,883.3 L1218.1,880.8 L1223.1,878.5 L1228.1,876.2 L1233.1,873.9 L1238.1,871.8 L1243.0,869.7 L1248.0,867.7 L1253.0,865.7 L1258.0,863.9 L1263.0,862.1 L1268.0,860.3 L1273.0,858.6 L1278.0,857.0 L1283.0,855.5 L1288.0,854.0 L1292.9,852.5 L1297.9,851.1 L1302.9,849.8 L1307.9,848.6 L1312.9,847.3 L1317.9,846.2 L1322.9,845.1 L1327.9,844.0 L1332.9,843.0 L1337.8,842.0 L1342.8,841.1 L1347.8,840.2 L1352.8,839.3 L1357.8,838.5 L1362.8,837.8 L1367.8,837.0 L1372.8,836.3 L1377.8,835.7 L1382.7,835.0 L1387.7,834.4 L1392.7,833.9 L1397.7,833.3 L1402.7,832.8 L1407.7,832.3 L1412.7,831.9 L1417.7,831.5 L1422.7,831.1 L1427.6,830.7 L1432.6,830.3 L1437.6,830.0 L1442.6,829.6 L1447.6,829.3 L1452.6,829.0 L1457.6,828.8 L1462.6,828.5 L1467.6,828.3 L1472.5,828.1 L1477.5,827.8 L1482.5,827.6 L1487.5,827.5 L1492.5,827.3 L1497.5,827.1 L1502.5,827.0 L1507.5,826.8 L1512.5,826.7 L1517.4,826.6 L1522.4,826.5 L1527.4,826.4 L1532.4,826.2 L1537.4,826.2 L1542.4,826.1 L1547.4,826.0 L1552.4,825.9 L1557.4,825.8 L1562.3,825.8 L1567.3,825.7 L1572.3,825.7 L1577.3,825.6 L1582.3,825.6 L1587.3,825.5 L1592.3,825.5 L1597.3,825.4 L1602.3,825.4 L1607.3,825.4 L1612.2,825.3 L1617.2,825.3 L1622.2,825.3 L1627.2,825.3 L1632.2,825.2 L1637.2,825.2 L1642.2,825.2 L1647.2,825.2 L1652.2,825.2 L1657.1,825.1 L1662.1,825.1 L1667.1,825.1 L1672.1,825.1 L1677.1,825.1 L1682.1,825.1 L1687.1,825.1 L1692.1,825.1 L1697.1,825.1 L1702.0,825.1 L1707.0,825.1 L1712.0,825.1 L1717.0,825.0 L1722.0,825.0 L1727.0,825.0 L1732.0,825.0 L1737.0,825.0 L1742.0,825.0 L1746.9,825.0 L1751.9,825.0 L1756.9,825.0 L1761.9,825.0 L1766.4,825.0"/>
</g>
<g class="softt">
<text class="lab" text-anchor="middle" transform="translate(167.6 682.6) scale(1 1.03)">-20</text>
<text class="lab" text-anchor="middle" transform="translate(367.5 682.6) scale(1 1.03)">-15</text>
<text class="lab" text-anchor="middle" transform="translate(567.0 682.6) scale(1 1.03)">-10</text>
<text class="lab" text-anchor="middle" transform="translate(766.1 682.6) scale(1 1.03)">-5</text>
<text class="lab" text-anchor="middle" transform="translate(970.0 682.6) scale(1 1.03)">0</text>
<text class="lab" text-anchor="middle" transform="translate(1168.1 682.6) scale(1 1.03)">5</text>
<text class="lab" text-anchor="middle" transform="translate(1369.0 682.6) scale(1 1.03)">10</text>
<text class="lab" text-anchor="middle" transform="translate(1570.1 682.6) scale(1 1.03)">15</text>
<text class="lab" text-anchor="middle" transform="translate(1768.3 682.6) scale(1 1.03)">20</text>
<text class="lab" text-anchor="middle" transform="translate(167.6 1416.2) scale(1 1.03)">-20</text>
<text class="lab" text-anchor="middle" transform="translate(367.5 1416.2) scale(1 1.03)">-15</text>
<text class="lab" text-anchor="middle" transform="translate(567.0 1416.2) scale(1 1.03)">-10</text>
<text class="lab" text-anchor="middle" transform="translate(766.1 1416.2) scale(1 1.03)">-5</text>
<text class="lab" text-anchor="middle" transform="translate(970.0 1416.2) scale(1 1.03)">0</text>
<text class="lab" text-anchor="middle" transform="translate(1168.1 1416.2) scale(1 1.03)">5</text>
<text class="lab" text-anchor="middle" transform="translate(1369.0 1416.2) scale(1 1.03)">10</text>
<text class="lab" text-anchor="middle" transform="translate(1570.1 1416.2) scale(1 1.03)">15</text>
<text class="lab" text-anchor="middle" transform="translate(1768.3 1416.2) scale(1 1.03)">20</text>
<text class="lab" text-anchor="end" transform="translate(152.7 113.0) scale(1 1.03)">0.08</text>
<text class="lab" text-anchor="end" transform="translate(152.7 245.4) scale(1 1.03)">0.06</text>
<text class="lab" text-anchor="end" transform="translate(152.7 375.6) scale(1 1.03)">0.04</text>
<text class="lab" text-anchor="end" transform="translate(152.7 506.9) scale(1 1.03)">0.02</text>
<text class="lab" text-anchor="end" transform="translate(152.7 637.6) scale(1 1.03)">0</text>
<text class="lab" text-anchor="end" transform="translate(154.2 844.0) scale(1 1.03)">1</text>
<text class="lab" text-anchor="end" transform="translate(156.2 1107.2) scale(1 1.03)">0.5</text>
<text class="lab" text-anchor="end" transform="translate(152.7 1371.6) scale(1 1.03)">0</text>
<text class="ttl" text-anchor="middle" transform="translate(969.2 76.2) scale(1 1.0)">PDF</text>
<text class="ttl" text-anchor="middle" transform="translate(968.6 808.2) scale(1 1.0)">CDF</text>
</g>
</svg></body></html>
